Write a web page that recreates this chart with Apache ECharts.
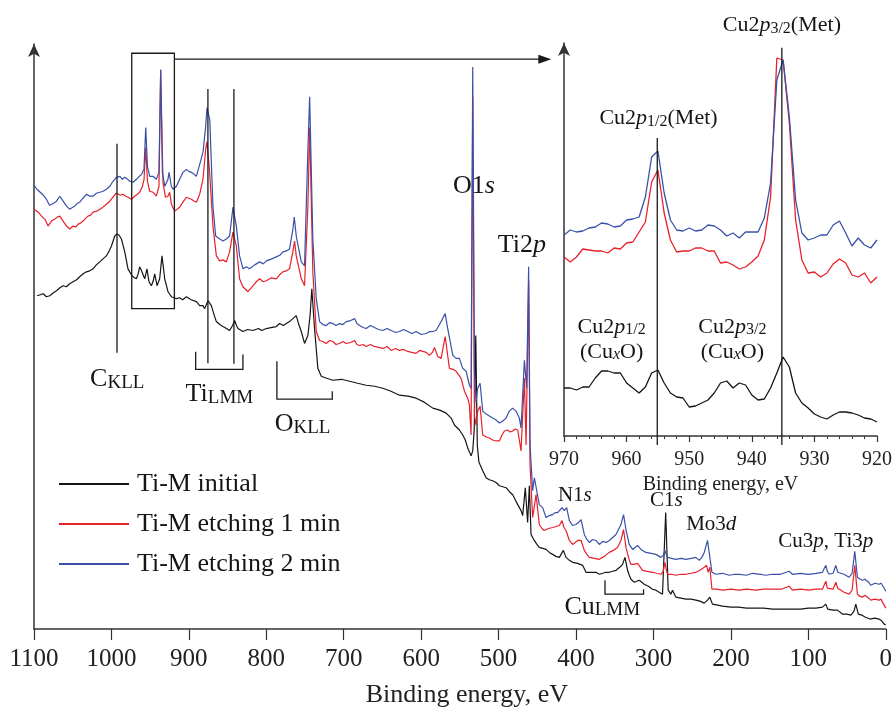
<!DOCTYPE html>
<html><head><meta charset="utf-8">
<script src="https://cdn.jsdelivr.net/npm/echarts@6/dist/echarts.min.js"></script>
<style>html,body{margin:0;padding:0;background:#fff}#c{width:895px;height:713px}</style>
</head><body><div id="c"></div>
<script>
// ---------- DATA (binding energy eV, intensity arb. units) ----------
const seriesNames = ['Ti-M initial', 'Ti-M etching 1 min', 'Ti-M etching 2 min'];

const initialSpectrum = [[1096,335],[1092,336],[1088,337],[1084,334],[1079.6,335],[1075,338],[1071,340],[1066.5,343],[1062.4,345],[1058,344],[1054,347],[1049.5,349],[1045,351],[1041,354],[1036.5,357],[1032.3,359],[1028,360],[1023.7,362],[1019.5,366],[1015.1,369],[1011,372],[1006.5,375],[1003,380],[1000,385],[995.7,395],[992.8,397],[990.2,396],[987.1,392],[982.8,379],[978.6,362],[975,357],[972.1,354],[967.7,352],[965.5,357],[963.5,364],[961.7,361],[960,362],[957,352],[954.1,362],[951.5,349],[948.4,345],[946,350],[944.1,357],[941.1,345],[937.7,352],[934.7,375],[931.2,352],[926.9,339],[922.6,334],[919,333],[916.1,332],[912,333],[908,331],[903.2,334],[897,331],[890.3,329],[886,325],[881.8,325],[879.6,322],[875.3,330],[871,325],[867.5,316],[864.5,309],[860,306],[856,304],[851.5,302],[847.4,300],[843.5,305],[840.9,310],[838.5,305],[836.6,302],[830.2,299],[824,301],[817.3,300],[810,302],[806,300],[800,302],[794,303],[787.1,304],[782.8,307],[778,305],[774.2,307],[770,309],[765.7,312],[761.3,315],[758,306],[754.8,299],[750.6,287],[746.3,295],[743.5,315],[741.2,342],[737.7,302],[733.4,262],[729,254],[722,252],[714,250],[703,251],[692.5,249],[682,247],[671,245],[660,244],[649.5,242],[639,239],[628,235],[617,234],[606.5,232],[596,228],[585,222],[576,220],[567.7,217],[565.7,219],[561.3,212],[557,205],[554.8,205],[550.6,200],[546.3,195],[543,190],[539.9,182],[535.5,174],[533.4,179],[531.5,200],[529.5,295],[527.5,185],[525.5,168],[523.9,165],[520.5,159],[516.1,152],[512,150],[507.6,149],[503,147],[499,144],[494.5,143],[490.3,142],[486,138],[481.8,135],[478.5,130],[475.3,125],[471,119],[468.9,114],[465.5,142],[462.5,107],[460.3,144],[458.1,95],[453.9,89],[450.5,85],[447.4,82],[443,81],[438.7,80],[434.5,77],[430.2,75],[426,73],[421.5,72],[416.4,79],[412.9,72],[408.6,69],[404.4,67],[398,66],[391.5,64],[387.1,57],[381,57],[374.2,57],[369.9,55],[365.5,56],[361.3,57],[357,57],[352.7,58],[348.4,59],[343.5,62],[339.9,65],[336.8,72],[333.4,59],[331.3,54],[329.1,50],[324.8,47],[318.5,49],[315,47],[312,45],[306.5,43],[301.2,40],[296.8,39],[292.6,37],[288.3,35],[284.2,117],[281,39],[277.5,35],[275.4,39],[271,32],[264.5,31],[258.1,30],[251.5,30],[245.2,29],[240,28],[234.4,26],[230.2,29],[227.2,32],[223.8,25],[217,24],[210.8,23],[200,22],[190,22],[180,21],[167.7,21],[158,21],[146,20],[135,20],[124.8,20],[110,20],[100,21],[90,21],[81.8,22],[77.4,25],[75,20],[73.2,19],[68,19],[62.4,19],[56,15],[50,15],[45,14],[41,18],[38.7,25],[35.4,15],[31,14],[26.8,12],[20.3,10],[14,11],[8.6,10],[5,8],[2.1,5],[0,4]];

const etch1Spectrum = [[1100,422],[1094.5,419],[1090.3,415],[1086,412],[1081.8,405],[1077.4,410],[1073.2,412],[1070,414],[1066.7,415],[1062.4,410],[1058,405],[1053.8,402],[1049.5,405],[1046,404],[1043,407],[1040,408],[1036.6,410],[1033,413],[1030.2,415],[1027,416],[1023.7,419],[1019,420],[1015,422],[1011,424],[1006.5,427],[1002,430],[998,434],[994,438],[991.5,439],[988,436],[985,437],[981.5,435],[978.6,434],[974.2,432],[970,435],[966.5,437],[963.5,439],[960,445],[957.9,452],[955.7,484],[953.5,450],[950.6,440],[946.3,439],[942,435],[938.6,445],[936.4,562],[933.4,449],[930.3,434],[927,435],[924.8,439],[922.6,427],[918.3,420],[916.1,419],[911.9,424],[907.6,429],[903.2,434],[900,433],[896.8,432],[893,430],[890.3,429],[886,437],[881.8,452],[878.3,482],[876.6,490],[873.2,459],[868.9,405],[864.5,375],[860.3,370],[856,371],[851.6,369],[847.4,379],[843.1,399],[838.7,385],[834.5,352],[830.2,344],[823.7,339],[817.3,345],[813,349],[808.6,352],[804,349],[800,350],[793.5,353],[787.1,352],[782.8,356],[778.6,359],[774,360],[770,362],[765.7,379],[763.5,390],[761.3,375],[754.8,352],[750.6,345],[746.3,425],[744,504],[739.9,359],[735.5,299],[731.2,290],[727,289],[722.6,287],[718,290],[714,289],[710,286],[705.4,287],[701,289],[696.8,287],[691,288],[686,290],[683,286],[679.6,285],[675,286],[671,284],[665.5,286],[660.3,284],[655,283],[649.5,282],[644,284],[638.7,280],[633,282],[628,280],[622.6,281],[617.3,279],[612,278],[606.5,277],[602,280],[597.9,279],[593.5,278],[589.4,275],[585.5,278],[582.8,283],[578.6,274],[574.2,272],[569,294],[563.5,262],[559,261],[554.8,259],[548.4,252],[544.1,239],[539.9,232],[537.7,225],[535.5,195],[533.4,535],[531.2,215],[529,205],[527,219],[523.9,224],[520.5,195],[516,193],[511.9,192],[507.6,190],[503.2,189],[499,189],[495.5,195],[492.5,199],[488.3,200],[485,198],[481.8,199],[478.5,201],[475.3,200],[471,179],[466.7,252],[464.5,185],[461.2,350],[459.4,165],[456,112],[451.6,135],[447.4,105],[444,101],[441,99],[435.5,101],[430.2,102],[425.8,103],[421.5,104],[418.1,109],[415.5,102],[412.9,99],[408.6,89],[404.4,85],[401,87],[397.9,89],[393.5,89],[389.3,79],[386,75],[382.8,72],[376,71],[369.9,70],[363.5,73],[357,77],[352,79],[346.4,82],[342,89],[338.6,100],[335.5,82],[331.5,70],[329.1,65],[324.8,65],[320.5,66],[314.1,59],[308,58],[301.2,57],[296,56],[290.3,55],[287.5,58],[285.2,67],[283.5,60],[281.8,55],[276.5,55],[271,54],[264.5,55],[258.1,55],[251.5,56],[245.2,57],[240,59],[234.4,62],[231.4,64],[229.4,57],[227.2,62],[224.5,40],[219,40],[210.8,39],[200,40],[190,39],[180,40],[167.7,39],[158,40],[146,40],[135,40],[124.8,43],[120.5,39],[110,40],[100,39],[90,40],[81.8,40],[77.4,48],[75.5,41],[73.2,39],[68,40],[64.5,47],[62,41],[60.3,39],[53.8,37],[47.3,35],[43.5,39],[40,64],[36.6,35],[33.5,33],[30.2,32],[27,34],[24.5,35],[22,31],[19.4,29],[14,30],[8.6,29],[6,30],[4.3,27],[2,24],[0,21]];

const etch2Spectrum = [[1100,446],[1096,442],[1092,439],[1088,436],[1084,432],[1080,426],[1077.5,424],[1074.5,428],[1071,430],[1066.7,435],[1062.4,430],[1058,425],[1054,422],[1050,424],[1047.4,425],[1044,428],[1041,429],[1036.6,433],[1032,437],[1028,435],[1023.7,435],[1019.4,438],[1015,439],[1010.8,440],[1006.5,442],[1002,445],[998,450],[993.5,454],[989,455],[986,452],[983,454],[979,452],[976.4,450],[972,449],[967.7,452],[964,455],[961,457],[958,462],[955.7,504],[953.5,465],[950.6,455],[946.3,455],[942,452],[938.6,459],[936.4,562],[934.2,459],[931,445],[927,452],[925.6,459],[922.6,445],[920.5,442],[916,445],[911.9,452],[907.6,459],[903.2,462],[900,460],[896.8,459],[893,457],[890.3,455],[886,467],[881.8,479],[878.3,505],[876.6,524],[873,512],[868.9,425],[865.4,395],[860,392],[855.8,390],[851.6,392],[847.4,395],[843,424],[838.7,405],[834.5,375],[830,362],[825.8,364],[821.6,362],[815,366],[808.6,369],[804,367],[800,370],[793,372],[787.1,374],[782,376],[778.6,379],[774,380],[770,382],[765.6,402],[763.9,414],[761.3,395],[754.8,369],[750.6,365],[746.3,482],[744,535],[739.9,392],[735.5,332],[731.2,309],[727,306],[722.6,305],[718,308],[714,307],[710,305],[705.4,307],[701,306],[696.8,309],[691,310],[686,312],[683,307],[679.6,305],[675,303],[671,302],[665.5,305],[660.3,303],[655,301],[649.5,300],[644,302],[638.7,300],[633,298],[628,299],[622.6,301],[617.3,299],[612,297],[606.5,299],[600,296],[593.5,297],[589,299],[585,299],[580.7,300],[574.2,309],[569,317],[565.7,302],[559.1,275],[554.8,272],[550.6,272],[546.3,262],[541.9,259],[537.7,245],[535.5,242],[533.4,565],[531.2,259],[529,228],[527,242],[523.9,247],[520.5,219],[516,216],[511.9,214],[507.6,212],[503.2,210],[499,207],[494.6,209],[490.3,212],[486.1,219],[481.8,222],[477.4,219],[473.2,212],[471,202],[466.7,270],[463.8,242],[461.2,364],[459.4,185],[456,139],[453.8,152],[451.6,152],[447.4,125],[443.1,122],[438.7,112],[434.5,114],[430.2,115],[427,117],[423.7,117],[418.1,122],[415.2,119],[412.1,122],[408.6,109],[404.4,104],[400,105],[397,107],[393.5,110],[389.3,95],[386,90],[382.8,87],[378.5,90],[374.2,89],[369.9,85],[365.7,88],[361,87],[357,89],[352.7,92],[348.4,95],[342,105],[338.6,115],[335.5,100],[331.3,85],[326.9,80],[320.5,84],[316.2,80],[309.7,77],[303,76],[296.8,75],[290.3,72],[287.5,74],[285.2,79],[283.5,75],[281.8,72],[276.5,71],[271,70],[264.5,71],[258.1,70],[251.5,71],[245.2,72],[240.9,69],[237.5,72],[234.4,77],[230.2,89],[228,90],[224.5,57],[219.4,55],[211,56],[202,54],[195,55],[189.3,55],[180,54],[172,56],[162,55],[155,54],[146.3,55],[136,55],[124.8,58],[120.5,55],[110,56],[100,55],[90,56],[81.8,57],[77.4,64],[75.5,58],[73.2,55],[68,56],[64.5,64],[62,57],[60.3,55],[53.8,55],[47.3,52],[43.5,56],[40,78],[36.6,52],[33,50],[30.2,49],[27,50],[24.5,51],[22,47],[19.4,44],[14,46],[8.6,45],[6,46],[4.3,44],[2,41],[0,38]];

// Inset: Cu2p region, 1 eV steps
const insetEnergy = [970,969,968,967,966,965,964,963,962,961,960,959,958,957,956,955,954,953,952,951,950,949,948,947,946,945,944,943,942,941,940,939,938,937,936,935,934,933,932,931,930,929,928,927,926,925,924,923,922,921,920];
const insetInitial = [48,48,46,49,49,58,65,65,63,63,53,48,43,49,63,66,53,43,39,38,29,30,33,36,43,53,55,48,53,51,41,36,37,48,63,79,69,43,33,28,22,19,17,21,24,24,23,21,18,17,14];
const insetEtch1 = [179,174,179,187,186,185,185,183,188,187,193,194,204,214,254,266,223,196,184,185,185,188,188,185,185,173,174,171,167,169,174,180,196,239,378,376,313,216,176,163,164,159,163,172,177,173,161,159,163,153,159];
const insetEtch2 = [201,206,204,205,208,209,213,212,209,210,216,217,219,239,279,285,243,216,206,205,208,205,206,211,210,206,200,203,198,204,204,204,218,253,356,376,319,236,203,196,198,201,201,211,215,203,190,198,191,188,196];

// ---------- CHART ----------
const FONT = '"Liberation Serif","Times New Roman",serif';
const COLORS = ['#151515', '#e8202a', '#3a50a8'];
const AX = '#333';
const chart = echarts.init(document.getElementById('c'), null, {renderer: 'canvas'});

function insetPairs(vals) { return insetEnergy.map((e, i) => [e, vals[i]]); }

function lineSeries(name, data, idx, gi, w) {
  return {
    name: name, type: 'line', xAxisIndex: gi, yAxisIndex: gi, data: data,
    symbol: 'none', showSymbol: false, smooth: false, sampling: null, silent: true,
    lineStyle: {color: COLORS[idx], width: w}, itemStyle: {color: COLORS[idx]}, z: 2 + idx
  };
}

const baseX = {
  type: 'value', inverse: true, splitLine: {show: false},
  axisLine: {onZero: false, lineStyle: {color: AX, width: 1.5}},
  axisTick: {lineStyle: {color: AX, width: 1.2}}
};
const baseY = {
  type: 'value', min: 0, splitLine: {show: false}, axisTick: {show: false}, axisLabel: {show: false},
  axisLine: {show: true, onZero: false, symbol: ['none', 'arrow'], symbolSize: [9, 13], lineStyle: {color: AX, width: 1.5}}
};

const option = {
  animation: false,
  backgroundColor: '#fff',
  grid: [
    {left: 34, right: 8.3, top: 44, bottom: 81},
    {left: 564, right: 16.7, top: 43, bottom: 277}
  ],
  xAxis: [
    Object.assign({}, baseX, {
      gridIndex: 0, min: 0, max: 1100, interval: 100,
      axisTick: {length: 11, lineStyle: {color: AX, width: 1.2}},
      axisLabel: {fontFamily: FONT, fontSize: 25, color: '#222', margin: 18, formatter: v => String(v)},
      name: 'Binding energy, eV', nameLocation: 'middle', nameGap: 53,
      nameTextStyle: {fontFamily: FONT, fontSize: 26, color: '#222', padding: [0, 0, 0, 14]}
    }),
    Object.assign({}, baseX, {
      gridIndex: 1, min: 920, max: 970, interval: 10,
      axisTick: {length: 6, lineStyle: {color: AX, width: 1.2}},
      minorTick: {show: true, splitNumber: 5, length: 3, lineStyle: {color: AX, width: 1}},
      axisLabel: {fontFamily: FONT, fontSize: 20, color: '#222', margin: 14, formatter: v => String(v)},
      name: 'Binding energy, eV', nameLocation: 'middle', nameGap: 34,
      nameTextStyle: {fontFamily: FONT, fontSize: 20, color: '#222'}
    })
  ],
  yAxis: [
    Object.assign({}, baseY, {gridIndex: 0, max: 588}),
    Object.assign({}, baseY, {gridIndex: 1, max: 393})
  ],
  legend: {
    data: seriesNames, orient: 'vertical', left: 59, top: 470, padding: 0,
    icon: 'rect', itemWidth: 70, itemHeight: 2, itemGap: 12, selectedMode: false,
    textStyle: {fontFamily: FONT, fontSize: 26, color: '#151515', lineHeight: 28, padding: [0, 0, 0, 3]}
  },
  series: [
    lineSeries(seriesNames[0], initialSpectrum, 0, 0, 1.2),
    lineSeries(seriesNames[1], etch1Spectrum, 1, 0, 1.2),
    lineSeries(seriesNames[2], etch2Spectrum, 2, 0, 1.2),
    lineSeries(seriesNames[0], insetPairs(insetInitial), 0, 1, 1.3),
    lineSeries(seriesNames[1], insetPairs(insetEtch1), 1, 1, 1.3),
    lineSeries(seriesNames[2], insetPairs(insetEtch2), 2, 1, 1.3)
  ]
};
chart.setOption(option);

// ---------- ANNOTATIONS (positioned in data coordinates) ----------
const P0 = (e, v) => chart.convertToPixel({gridIndex: 0}, [e, v]);
const P1 = (e, v) => chart.convertToPixel({gridIndex: 1}, [e, v]);
const stroke = {stroke: '#1a1a1a', lineWidth: 1.3, fill: null};
const els = [];
function poly(pts) { els.push({type: 'polyline', shape: {points: pts}, style: Object.assign({}, stroke), silent: true, z: 50}); }

// main guide lines
poly([P0(992.8, 487.7), P0(992.8, 277.7)]);
poly([P0(875.4, 542.7), P0(875.4, 267)]);
poly([P0(841.8, 542.7), P0(841.8, 266.5)]);
// brackets
poly([P0(891.2, 278.7), P0(891.2, 261), P0(830.2, 261), P0(830.2, 276)]);
poly([P0(786.3, 269), P0(786.3, 231), P0(714.8, 231), P0(714.8, 239)]);
poly([P0(362.6, 49), P0(362.6, 35), P0(312.8, 35), P0(312.8, 40)]);
// box around Cu2p region
{
  const a = P0(973.8, 578.7), b = P0(918.7, 322);
  els.push({type: 'rect', shape: {x: a[0], y: a[1], width: b[0] - a[0], height: b[1] - a[1]}, style: Object.assign({}, stroke), silent: true, z: 50});
  const s = P0(918.7, 572.7), t = P0(431.9, 572.7);
  poly([s, [t[0] - 10, t[1]]]);
  els.push({type: 'polygon', shape: {points: [[t[0], t[1]], [t[0] - 13, t[1] - 4.5], [t[0] - 13, t[1] + 4.5]]}, style: {fill: '#1a1a1a'}, silent: true, z: 50});
}
// inset guide lines (extend slightly below the axis)
{
  const base = P1(955.1, 0)[1] + 9;
  const l1 = P1(955.1, 298), l2 = P1(935.2, 388.3);
  poly([l1, [l1[0], base]]);
  poly([l2, [l2[0], base]]);
}

function rich(S, L, s, l) {
  return {
    n: {fontFamily: FONT, fontSize: S, lineHeight: L, verticalAlign: 'bottom', fill: '#151515', color: '#151515'},
    i: {fontFamily: FONT, fontSize: S, fontStyle: 'italic', lineHeight: L, verticalAlign: 'bottom', fill: '#151515', color: '#151515'},
    s: {fontFamily: FONT, fontSize: s, lineHeight: l, verticalAlign: 'bottom', fill: '#151515', color: '#151515'},
    si: {fontFamily: FONT, fontSize: s, fontStyle: 'italic', lineHeight: l, verticalAlign: 'bottom', fill: '#151515', color: '#151515'}
  };
}
function label(pos, text, r) {
  els.push({type: 'text', x: pos[0], y: pos[1], silent: true, z: 60,
    style: {text: text, rich: r, fontFamily: FONT, fontSize: 20, fill: '#151515',
      align: 'center', verticalAlign: 'bottom', textAlign: 'center', textVerticalAlign: 'bottom'}});
}
const R26 = rich(26, 30, 19, 21.4);
const R21 = rich(21, 24, 15, 17);
const R22 = rich(22, 26, 16, 17.8);
const R22b = rich(22, 25, 16, 17.8);

label(P0(531.9, 431.8), '{n|O1}{i|s}', R26);
label(P0(469.9, 372.8), '{n|Ti2}{i|p}', R26);
label(P0(992.5, 237.8), '{n|C}{s|KLL}', R26);
label(P0(860.6, 222.5), '{n|Ti}{s|LMM}', R26);
label(P0(753.2, 192.5), '{n|O}{s|KLL}', R26);
label(P0(366.1, 9.1), '{n|Cu}{s|LMM}', R26);
label(P0(401.5, 123.8), '{n|N1}{i|s}', R21);
label(P0(283.5, 118.8), '{n|C1}{i|s}', R21);
label(P0(225.4, 94.4), '{n|Mo3}{i|d}', R21);
label(P0(77.4, 77.1), '{n|Cu3}{i|p}{n|, Ti3}{i|p}', R21);

label(P1(935.2, 399.5), '{n|Cu2}{i|p}{s|3/2}{n|(Met)}', R22);
label(P1(954.9, 306.5), '{n|Cu2}{i|p}{s|1/2}{n|(Met)}', R22);
label(P1(962.4, 73), '{n|Cu2}{i|p}{s|1/2}\n{n|(Cu}{si|x}{n|O)}', R22b);
label(P1(943.1, 73), '{n|Cu2}{i|p}{s|3/2}\n{n|(Cu}{si|x}{n|O)}', R22b);

chart.setOption({graphic: {elements: els}});
</script>
</body></html>
